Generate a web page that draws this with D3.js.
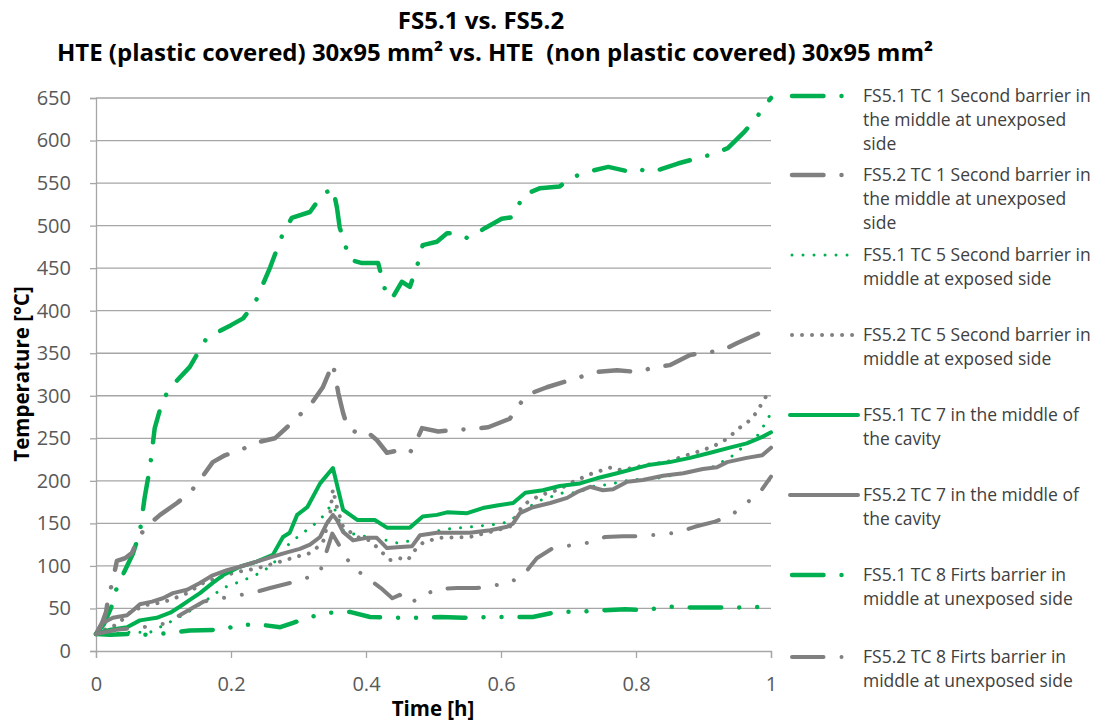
<!DOCTYPE html>
<html lang="en">
<head>
<meta charset="UTF-8">
<title>FS5.1 vs. FS5.2</title>
<script src="https://d3js.org/d3.v7.min.js"></script>
<style>
    body { margin: 0; background: white; }
    text { font-family: 'Open Sans', sans-serif; }
    .title { font-weight: bold; fill: #000; text-anchor: middle; white-space: pre; }
    .tick text { font-size: 20px; fill: #595959; }
    .axis-title { font-weight: bold; font-size: 20.5px; fill: #000; text-anchor: middle; }
    .legend text { font-size: 17.5px; fill: #404040; }
</style>
</head>
<body>
<script>
    const width = 1102;
    const height = 724;
    const plot = {left: 96, right: 771, top: 98, bottom: 651};

    const titleLines = ['FS5.1 vs. FS5.2', 'HTE (plastic covered) 30x95 mm\u00b2 vs. HTE  (non plastic covered) 30x95 mm\u00b2'];
    const yTicks = d3.range(0, 651, 50);
    const xTicks = [0, 0.2, 0.4, 0.6, 0.8, 1];

    // [time h, temperature °C]
    const fs51tc1 = [[0,20],[0.012,32],[0.024,54],[0.031,75],[0.043,95],[0.055,115],[0.065,140],[0.072,180],[0.08,216],[0.087,262],[0.097,290],[0.105,303],[0.12,318],[0.139,334],[0.164,368],[0.2,383],[0.218,391],[0.236,410],[0.258,451],[0.277,491],[0.29,509],[0.317,516],[0.335,536],[0.351,544],[0.357,521],[0.361,498],[0.376,460],[0.394,456],[0.418,456],[0.431,416],[0.439,415],[0.453,434],[0.465,428],[0.477,456],[0.484,477],[0.505,481],[0.52,491],[0.535,491],[0.551,485],[0.576,497],[0.601,508],[0.618,510],[0.633,536],[0.658,544],[0.687,546],[0.702,556],[0.732,564],[0.759,569],[0.787,564],[0.803,567],[0.818,563],[0.836,566],[0.862,573],[0.89,579],[0.914,584],[0.936,591],[0.959,609],[0.976,624],[0.988,638],[1.0,650]];
    const fs52tc1 = [[0,20],[0.009,33],[0.015,46],[0.018,62],[0.024,80],[0.031,106],[0.043,109],[0.053,115],[0.065,136],[0.077,148],[0.095,160],[0.12,174],[0.139,186],[0.154,201],[0.173,222],[0.191,230],[0.213,236],[0.243,246],[0.265,250],[0.283,263],[0.299,275],[0.321,293],[0.336,310],[0.351,338],[0.359,303],[0.366,280],[0.373,262],[0.388,256],[0.401,258],[0.416,248],[0.431,233],[0.45,236],[0.465,233],[0.473,244],[0.483,262],[0.507,258],[0.535,260],[0.559,261],[0.581,263],[0.613,273],[0.625,287],[0.638,301],[0.668,310],[0.713,321],[0.742,328],[0.772,330],[0.801,328],[0.831,334],[0.85,336],[0.88,348],[0.905,351],[0.927,353],[0.95,362],[0.981,373],[1.0,380]];
    const fs51tc5 = [[0,20],[0.02,20],[0.05,22],[0.08,22],[0.107,33],[0.135,45],[0.164,60],[0.188,74],[0.218,83],[0.247,93],[0.268,107],[0.287,127],[0.307,139],[0.332,154],[0.345,168],[0.351,172],[0.366,142],[0.387,136],[0.416,133],[0.446,127],[0.47,130],[0.495,138],[0.514,143],[0.544,145],[0.594,149],[0.613,152],[0.628,163],[0.658,177],[0.692,186],[0.714,186],[0.732,193],[0.761,196],[0.791,201],[0.831,203],[0.87,209],[0.91,215],[0.939,227],[0.959,240],[0.981,254],[0.994,271],[1.0,280]];
    const fs52tc5 = [[0,20],[0.015,26],[0.031,31],[0.05,45],[0.073,54],[0.09,56],[0.11,60],[0.135,68],[0.159,80],[0.184,87],[0.209,93],[0.238,97],[0.273,105],[0.298,111],[0.317,115],[0.336,127],[0.347,162],[0.351,190],[0.357,169],[0.366,146],[0.387,134],[0.406,130],[0.425,115],[0.436,107],[0.45,109],[0.462,107],[0.473,119],[0.484,127],[0.507,133],[0.554,134],[0.584,140],[0.613,146],[0.625,162],[0.633,172],[0.658,183],[0.683,189],[0.707,199],[0.736,209],[0.764,216],[0.776,213],[0.796,215],[0.816,219],[0.846,222],[0.87,229],[0.899,236],[0.924,244],[0.936,250],[0.947,258],[0.959,266],[0.969,271],[0.979,281],[0.994,301],[1.0,307]];
    const fs51tc7 = [[0,20],[0.021,25],[0.046,28],[0.065,36],[0.09,39],[0.11,45],[0.124,52],[0.139,60],[0.154,68],[0.173,80],[0.188,89],[0.213,99],[0.238,105],[0.262,113],[0.277,134],[0.287,139],[0.298,160],[0.313,169],[0.332,197],[0.351,215],[0.366,166],[0.387,154],[0.413,154],[0.431,145],[0.465,145],[0.484,158],[0.505,160],[0.52,163],[0.55,162],[0.573,168],[0.594,171],[0.618,174],[0.636,186],[0.662,189],[0.687,194],[0.717,197],[0.742,203],[0.772,209],[0.801,215],[0.821,219],[0.85,222],[0.88,227],[0.91,233],[0.939,239],[0.964,244],[0.988,252],[1.0,257]];
    const fs52tc7 = [[0,20],[0.01,33],[0.025,39],[0.046,42],[0.055,48],[0.065,55],[0.083,58],[0.099,62],[0.114,68],[0.135,72],[0.154,80],[0.173,89],[0.194,95],[0.213,99],[0.238,105],[0.262,111],[0.283,116],[0.302,120],[0.317,125],[0.332,134],[0.342,150],[0.351,160],[0.357,154],[0.366,140],[0.381,130],[0.401,133],[0.416,133],[0.431,121],[0.446,122],[0.468,123],[0.48,136],[0.505,139],[0.554,139],[0.584,142],[0.609,146],[0.618,150],[0.628,162],[0.647,169],[0.673,174],[0.698,180],[0.713,187],[0.732,193],[0.751,189],[0.766,190],[0.787,199],[0.81,201],[0.84,206],[0.87,209],[0.899,214],[0.92,216],[0.935,222],[0.964,227],[0.987,230],[1.0,239]];
    const fs51tc8 = [[0,20],[0.021,19],[0.05,20],[0.077,19],[0.107,21],[0.139,24],[0.188,25],[0.213,31],[0.243,31],[0.273,28],[0.292,33],[0.317,40],[0.347,45],[0.376,46],[0.406,40],[0.45,39],[0.483,39],[0.51,40],[0.544,39],[0.584,40],[0.618,40],[0.647,40],[0.683,46],[0.713,46],[0.754,48],[0.784,49],[0.81,48],[0.85,52],[0.89,51],[0.95,51],[1.0,52]];
    const fs52tc8 = [[0,20],[0.03,25],[0.07,28],[0.1,32],[0.124,42],[0.159,58],[0.2,64],[0.231,68],[0.258,74],[0.307,84],[0.332,93],[0.35,138],[0.379,99],[0.4,87],[0.422,74],[0.439,62],[0.45,66],[0.465,56],[0.48,63],[0.505,73],[0.535,74],[0.564,74],[0.613,80],[0.636,92],[0.653,109],[0.677,121],[0.727,127],[0.754,134],[0.781,135],[0.81,135],[0.861,139],[0.887,146],[0.917,152],[0.942,160],[0.984,187],[1.0,205]];

    const green = '#00b050';
    const grey = '#808080';
    const dashDot = '31.5,18,0.01,18';
    const dashDotDot = '31.5,18,0.01,18,0.01,18';

    const series = [
        {name: ['FS5.1 TC 1 Second barrier in', 'the middle at unexposed', 'side'], data: fs51tc1, color: green, w: 4.5, dash: dashDot},
        {name: ['FS5.2 TC 1 Second barrier in', 'the middle at unexposed', 'side'], data: fs52tc1, color: grey, w: 4.5, dash: dashDot},
        {name: ['FS5.1 TC 5 Second barrier in', 'middle at exposed side'], data: fs51tc5, color: green, w: 3, dash: '0.01,11'},
        {name: ['FS5.2 TC 5 Second barrier in', 'middle at exposed side'], data: fs52tc5, color: grey, w: 4, dash: '0.01,10'},
        {name: ['FS5.1 TC 7 in the middle of', 'the cavity'], data: fs51tc7, color: green, w: 4, dash: null},
        {name: ['FS5.2 TC 7 in the middle of', 'the cavity'], data: fs52tc7, color: grey, w: 4, dash: null},
        {name: ['FS5.1 TC 8 Firts barrier in', 'middle at unexposed side'], data: fs51tc8, color: green, w: 4.5, dash: dashDotDot},
        {name: ['FS5.2 TC 8 Firts barrier in', 'middle at unexposed side'], data: fs52tc8, color: grey, w: 4, dash: dashDotDot}
    ];
    const legendY = [96, 175, 255, 335, 415, 495, 575, 657];

    const x = d3.scaleLinear().domain([0, 1]).range([plot.left, plot.right]);
    const y = d3.scaleLinear().domain([0, 650]).range([plot.bottom, plot.top]);

    const svg = d3.select('body').append('svg').attr('width', width).attr('height', height);

    svg.selectAll('.title')
        .data(titleLines).enter()
        .append('text')
        .attr('class', 'title')
        .attr('x', (d, i) => i ? 495 : 481)
        .attr('y', (d, i) => i ? 61 : 29)
        .style('font-size', '24px')
        .text(d => d);

    // gridlines
    svg.append('g')
        .selectAll('line')
        .data(yTicks.filter(d => d > 0)).enter()
        .append('line')
        .attr('x1', plot.left).attr('x2', plot.right)
        .attr('y1', d => y(d)).attr('y2', d => y(d))
        .style('stroke', '#a6a6a6').style('stroke-width', 1.3);

    const yAxis = svg.append('g')
        .attr('transform', `translate(${plot.left},0)`)
        .call(d3.axisLeft(y).tickValues(yTicks).tickSize(6).tickPadding(19));
    const xAxis = svg.append('g')
        .attr('transform', `translate(0,${plot.bottom})`)
        .call(d3.axisBottom(x).tickValues(xTicks).tickSize(7).tickPadding(19).tickFormat(d3.format('')));
    [yAxis, xAxis].forEach(a => {
        a.select('.domain').style('stroke', '#a6a6a6').style('stroke-width', 1.3);
        a.selectAll('.tick line').style('stroke', '#a6a6a6').style('stroke-width', 1.3);
        a.selectAll('.tick text').attr('font-family', null).attr('font-size', null);
    });

    svg.append('text')
        .attr('class', 'axis-title')
        .attr('transform', 'translate(29,374) rotate(-90)')
        .text('Temperature [\u00b0C]');
    svg.append('text')
        .attr('class', 'axis-title')
        .attr('x', 433).attr('y', 716)
        .text('Time [h]');

    const line = d3.line().x(d => x(d[0])).y(d => y(d[1]));

    svg.append('g')
        .selectAll('path')
        .data(series).enter()
        .append('path')
        .attr('d', d => line(d.data))
        .style('fill', 'none')
        .style('stroke', d => d.color)
        .style('stroke-width', d => d.w)
        .style('stroke-linecap', 'round')
        .style('stroke-linejoin', 'round')
        .style('stroke-dasharray', d => d.dash);

    const legend = svg.append('g').attr('class', 'legend')
        .selectAll('g')
        .data(series).enter()
        .append('g')
        .attr('transform', (d, i) => `translate(0,${legendY[i]})`);

    legend.append('line')
        .attr('x1', d => d.dash ? 792 : 790).attr('x2', 858)
        .attr('y1', 0).attr('y2', 0)
        .style('stroke', d => d.color)
        .style('stroke-width', d => d.w)
        .style('stroke-linecap', 'round')
        .style('stroke-dasharray', d => d.dash);

    legend.selectAll('text')
        .data(d => d.name).enter()
        .append('text')
        .attr('x', 863)
        .attr('y', (d, i) => i * 24)
        .attr('dy', '0.35em')
        .text(d => d);
</script>
</body>
</html>
